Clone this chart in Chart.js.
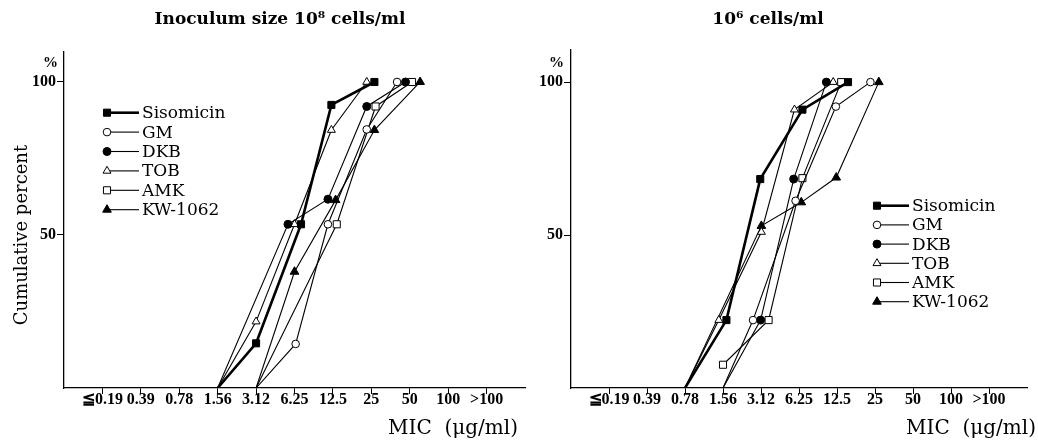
<!DOCTYPE html>
<html>
<head>
<meta charset="utf-8">
<script src="https://cdn.jsdelivr.net/npm/chart.js@4.4.1/dist/chart.umd.min.js"></script>
<style>
body { margin: 0; background: #fff; }
#wrap { position: relative; width: 1038px; height: 445px; }
canvas { position: absolute; top: 0; }
#left { left: 0; }
#right { left: 530px; }
</style>
</head>
<body>
<div id="wrap">
  <canvas id="left" width="540" height="445"></canvas>
  <canvas id="right" width="508" height="445"></canvas>
</div>
<script>
// MIC categories (x axis), index 0..10
const micLabels = ['≦0.19', '0.39', '0.78', '1.56', '3.12', '6.25', '12.5', '25', '50', '100', '>100'];
const yTicks = [50, 100];
const drugNames = ['Sisomicin', 'GM', 'DKB', 'TOB', 'AMK', 'KW-1062'];

// points are [MIC category position, cumulative percent]
// (positions are slightly off the category where the printed markers were shifted apart)
// inoculum 10^8 cells/ml
const siso_108 = [[3, 0], [4.0, 14.6], [5.17, 53.5], [5.96, 92.5], [7.08, 100]];
const gm_108   = [[4, 0], [5.03, 14.4], [5.87, 53.5], [6.88, 84.5], [7.67, 100]];
const dkb_108  = [[3, 0], [4.83, 53.5], [5.87, 61.7], [6.88, 92], [7.89, 100]];
const tob_108  = [[3, 0], [4.0, 21.7], [5.0, 53.5], [5.96, 84.3], [6.88, 100]];
const amk_108  = [[4, 0], [6.1, 53.5], [7.11, 92], [8.06, 100]];
const kw_108   = [[4, 0], [5.0, 38], [6.07, 61.4], [7.08, 84.3], [8.27, 100]];

// inoculum 10^6 cells/ml
const siso_106 = [[2, 0], [3.09, 22.2], [3.98, 68.3], [5.09, 91], [6.29, 100]];
const gm_106   = [[3, 0], [3.79, 22.2], [4.91, 61.2], [5.97, 92], [6.88, 100]];
const dkb_106  = [[3, 0], [3.99, 22.2], [4.86, 68.3], [5.72, 100]];
const tob_106  = [[2, 0], [2.89, 22.2], [4.01, 51], [4.88, 91], [5.9, 100]];
const amk_106  = [[3, 7.6], [4.2, 22.2], [5.09, 68.6], [6.11, 100]];
const kw_106   = [[2, 0], [4.01, 53], [5.06, 60.7], [5.98, 68.8], [7.1, 100]];

const markerStyle = ['rect', 'circle', 'circle', 'triangle', 'rect', 'triangle'];
const markerFill  = ['#000', '#fff', '#000', '#fff', '#fff', '#000'];
const markerSize  = [5, 3.8, 4, 4.6, 5, 5];
const lineWidth   = [2.6, 1.1, 1.1, 1.1, 1.1, 1.1];

function buildDatasets(series) {
    return series.map(function(pts, i) {
        return {
            label: drugNames[i],
            data: pts.map(p => ({x: p[0], y: p[1]})),
            showLine: true,
            borderColor: '#000',
            borderWidth: lineWidth[i],
            pointStyle: markerStyle[i],
            pointBackgroundColor: markerFill[i],
            pointBorderColor: '#000',
            pointBorderWidth: 1,
            pointRadius: c => (c.raw && c.raw.y === 0) ? 0 : markerSize[i],
            tension: 0
        };
    });
}

function decor(cfg) {
    return {
        id: 'decor',
        afterDraw(chart) {
            const ctx = chart.ctx;
            ctx.save();
            ctx.fillStyle = '#000';
            ctx.textBaseline = 'middle';

            ctx.font = 'bold 17px "DejaVu Serif"';
            ctx.textAlign = 'center';
            ctx.fillText(cfg.title, cfg.titleX, 20);

            ctx.font = 'bold 15px "Liberation Serif"';
            ctx.textAlign = 'right';
            ctx.fillText('%', cfg.pctX, 63);

            ctx.font = '20px "DejaVu Serif"';
            ctx.fillText('MIC  (μg/ml)', cfg.micX, 429);

            if (cfg.yLabel) {
                ctx.save();
                ctx.font = '18px "DejaVu Serif"';
                ctx.translate(22, 235);
                ctx.rotate(-Math.PI / 2);
                ctx.textAlign = 'center';
                ctx.fillText(cfg.yLabel, 0, 0);
                ctx.restore();
            }

            // legend
            chart.data.datasets.forEach(function(ds, i) {
                const y = cfg.legY + i * cfg.legStep;
                ctx.strokeStyle = '#000';
                ctx.lineWidth = lineWidth[i];
                ctx.beginPath();
                ctx.moveTo(cfg.legX, y);
                ctx.lineTo(cfg.legX + 32, y);
                ctx.stroke();
                ctx.fillStyle = markerFill[i];
                ctx.lineWidth = 1;
                Chart.helpers.drawPoint(ctx, {pointStyle: markerStyle[i], radius: markerSize[i], borderWidth: 1, rotation: 0}, cfg.legX, y);
                ctx.fillStyle = '#000';
                ctx.textAlign = 'left';
                ctx.font = '17px "DejaVu Serif"';
                ctx.fillText(ds.label, cfg.legX + 35, y + 1);
            });
            ctx.restore();
        }
    };
}

const tickFont = {family: 'Liberation Serif', size: 16, weight: 'bold'};

function makeChart(id, series, o) {
    return new Chart(id, {
        type: 'scatter',
        data: {datasets: buildDatasets(series)},
        options: {
            responsive: false,
            animation: false,
            layout: {padding: {top: o.top, right: o.right, bottom: 0, left: 0}},
            plugins: {legend: {display: false}, tooltip: {enabled: false}},
            scales: {
                x: {
                    type: 'linear', min: -1, max: 11,
                    afterBuildTicks: s => { s.ticks = micLabels.map((l, i) => ({value: i})); },
                    afterFit: s => { s.height = 57; },
                    ticks: {callback: v => micLabels[v], autoSkip: false, maxRotation: 0, font: tickFont, color: '#000', padding: -4},
                    grid: {drawOnChartArea: false, tickLength: 6, color: '#000'},
                    border: {color: '#000', width: 1.3}
                },
                y: {
                    type: 'linear', min: 0, max: o.ymax,
                    afterBuildTicks: s => { s.ticks = yTicks.map(v => ({value: v})); },
                    afterFit: s => { s.width = o.yw; },
                    ticks: {font: tickFont, color: '#000', padding: 1},
                    grid: {drawOnChartArea: false, tickLength: 7, color: '#000'},
                    border: {color: '#000', width: 1.3}
                }
            }
        },
        plugins: [decor(o)]
    });
}

makeChart('left', [siso_108, gm_108, dkb_108, tob_108, amk_108, kw_108], {
    top: 52, right: 15, ymax: 109.8, yw: 64,
    title: 'Inoculum size 10⁸ cells/ml', titleX: 280,
    pctX: 58, micX: 518, yLabel: 'Cumulative percent',
    legX: 107, legY: 112.7, legStep: 19.4
});

makeChart('right', [siso_106, gm_106, dkb_106, tob_106, amk_106, kw_106], {
    top: 50, right: 11, ymax: 110.5, yw: 41,
    title: '10⁶ cells/ml', titleX: 238,
    pctX: 34, micX: 506,
    legX: 347, legY: 205.7, legStep: 19.2
});
</script>
</body>
</html>
